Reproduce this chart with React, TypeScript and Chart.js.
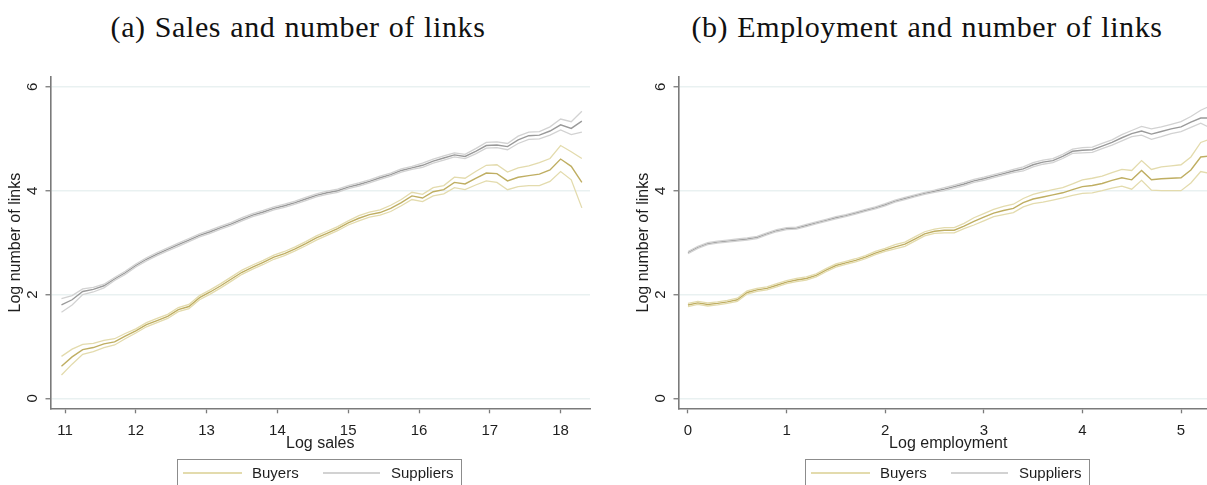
import React, { useEffect, useRef } from "react";
import { Chart, registerables } from "chart.js";

Chart.register(...registerables);

// ---------- Panel (a): sales ----------
const salesX = [10.95, 11.1, 11.25, 11.4, 11.55, 11.7, 11.85, 12.0, 12.15, 12.3, 12.45, 12.6, 12.75, 12.9, 13.05, 13.2, 13.35, 13.5, 13.65, 13.8, 13.95, 14.1, 14.25, 14.4, 14.55, 14.7, 14.85, 15.0, 15.15, 15.3, 15.45, 15.6, 15.75, 15.9, 16.05, 16.2, 16.35, 16.5, 16.65, 16.8, 16.95, 17.1, 17.25, 17.4, 17.55, 17.7, 17.85, 18.0, 18.15, 18.3];

const salesBuyersMean = [0.62, 0.8, 0.94, 0.98, 1.05, 1.09, 1.2, 1.3, 1.42, 1.5, 1.58, 1.71, 1.77, 1.94, 2.05, 2.17, 2.3, 2.43, 2.53, 2.62, 2.72, 2.79, 2.88, 2.98, 3.09, 3.18, 3.27, 3.38, 3.47, 3.54, 3.58, 3.66, 3.77, 3.9, 3.86, 3.98, 4.02, 4.16, 4.13, 4.24, 4.34, 4.33, 4.19, 4.26, 4.29, 4.32, 4.4, 4.61, 4.47, 4.16];
const salesBuyersHi = [0.81, 0.95, 1.04, 1.06, 1.12, 1.15, 1.25, 1.34, 1.46, 1.54, 1.62, 1.75, 1.81, 1.98, 2.09, 2.21, 2.34, 2.47, 2.57, 2.66, 2.76, 2.83, 2.92, 3.02, 3.13, 3.22, 3.31, 3.42, 3.52, 3.59, 3.63, 3.72, 3.83, 3.97, 3.93, 4.06, 4.1, 4.26, 4.24, 4.37, 4.49, 4.5, 4.36, 4.44, 4.48, 4.54, 4.62, 4.87, 4.75, 4.62];
const salesBuyersLo = [0.45, 0.66, 0.85, 0.9, 0.98, 1.03, 1.15, 1.26, 1.38, 1.46, 1.54, 1.67, 1.73, 1.9, 2.01, 2.13, 2.26, 2.39, 2.49, 2.58, 2.68, 2.75, 2.84, 2.94, 3.05, 3.14, 3.23, 3.34, 3.42, 3.49, 3.53, 3.6, 3.71, 3.83, 3.79, 3.9, 3.94, 4.06, 4.02, 4.11, 4.19, 4.16, 4.02, 4.08, 4.1, 4.1, 4.18, 4.37, 4.21, 3.67];

const salesSuppliersMean = [1.8, 1.9, 2.06, 2.1, 2.17, 2.3, 2.42, 2.56, 2.68, 2.78, 2.87, 2.96, 3.05, 3.14, 3.21, 3.29, 3.36, 3.45, 3.53, 3.59, 3.66, 3.71, 3.77, 3.84, 3.91, 3.96, 4.0, 4.07, 4.12, 4.18, 4.25, 4.31, 4.39, 4.44, 4.49, 4.57, 4.63, 4.69, 4.66, 4.76, 4.87, 4.88, 4.85, 4.98, 5.06, 5.07, 5.15, 5.27, 5.2, 5.34];
const salesSuppliersHi = [1.92, 1.98, 2.11, 2.14, 2.2, 2.33, 2.45, 2.59, 2.71, 2.81, 2.9, 2.99, 3.08, 3.17, 3.24, 3.32, 3.39, 3.48, 3.56, 3.62, 3.69, 3.74, 3.8, 3.87, 3.94, 3.99, 4.03, 4.1, 4.15, 4.21, 4.28, 4.34, 4.42, 4.47, 4.53, 4.61, 4.67, 4.73, 4.7, 4.81, 4.93, 4.94, 4.91, 5.05, 5.13, 5.14, 5.23, 5.38, 5.33, 5.53];
const salesSuppliersLo = [1.66, 1.8, 2.0, 2.05, 2.13, 2.27, 2.39, 2.53, 2.65, 2.75, 2.84, 2.93, 3.02, 3.11, 3.18, 3.26, 3.33, 3.42, 3.5, 3.56, 3.63, 3.68, 3.74, 3.81, 3.88, 3.93, 3.97, 4.04, 4.09, 4.15, 4.22, 4.28, 4.36, 4.41, 4.45, 4.53, 4.59, 4.65, 4.62, 4.71, 4.82, 4.83, 4.79, 4.91, 4.99, 5.0, 5.07, 5.17, 5.08, 5.13];

const salesTicks = [11, 12, 13, 14, 15, 16, 17, 18];

// ---------- Panel (b): employment ----------
const empX = [0.0, 0.1, 0.2, 0.3, 0.4, 0.5, 0.6, 0.7, 0.8, 0.9, 1.0, 1.1, 1.2, 1.3, 1.4, 1.5, 1.6, 1.7, 1.8, 1.9, 2.0, 2.1, 2.2, 2.3, 2.4, 2.5, 2.6, 2.7, 2.8, 2.9, 3.0, 3.1, 3.2, 3.3, 3.4, 3.5, 3.6, 3.7, 3.8, 3.9, 4.0, 4.1, 4.2, 4.3, 4.4, 4.5, 4.6, 4.7, 4.8, 4.9, 5.0, 5.1, 5.2, 5.35];

const empBuyersMean = [1.8, 1.84, 1.81, 1.83, 1.86, 1.9, 2.04, 2.09, 2.12, 2.18, 2.24, 2.28, 2.31, 2.37, 2.47, 2.56, 2.61, 2.66, 2.72, 2.8, 2.86, 2.92, 2.97, 3.07, 3.17, 3.22, 3.24, 3.24, 3.32, 3.41, 3.49, 3.57, 3.62, 3.66, 3.77, 3.84, 3.88, 3.92, 3.96, 4.02, 4.08, 4.1, 4.14, 4.2, 4.25, 4.21, 4.39, 4.21, 4.23, 4.24, 4.25, 4.4, 4.65, 4.68];
const empBuyersHi = [1.83, 1.87, 1.84, 1.86, 1.89, 1.93, 2.07, 2.12, 2.15, 2.21, 2.27, 2.31, 2.34, 2.4, 2.5, 2.59, 2.64, 2.69, 2.75, 2.83, 2.89, 2.96, 3.01, 3.11, 3.21, 3.26, 3.29, 3.29, 3.37, 3.48, 3.56, 3.64, 3.7, 3.74, 3.85, 3.93, 3.98, 4.02, 4.06, 4.13, 4.21, 4.24, 4.28, 4.35, 4.41, 4.39, 4.58, 4.41, 4.46, 4.48, 4.5, 4.65, 4.93, 5.03];
const empBuyersLo = [1.77, 1.81, 1.78, 1.8, 1.83, 1.87, 2.01, 2.06, 2.09, 2.15, 2.21, 2.25, 2.28, 2.34, 2.44, 2.53, 2.58, 2.63, 2.69, 2.77, 2.83, 2.88, 2.93, 3.03, 3.13, 3.18, 3.19, 3.19, 3.27, 3.34, 3.42, 3.5, 3.54, 3.58, 3.69, 3.75, 3.78, 3.82, 3.86, 3.91, 3.95, 3.96, 4.0, 4.05, 4.09, 4.03, 4.2, 4.01, 4.0, 4.0, 4.0, 4.15, 4.37, 4.31];

const empSuppliersMean = [2.81, 2.91, 2.98, 3.01, 3.03, 3.05, 3.07, 3.1, 3.17, 3.23, 3.27, 3.28, 3.33, 3.38, 3.43, 3.48, 3.52, 3.57, 3.62, 3.67, 3.73, 3.8, 3.85, 3.9, 3.95, 3.99, 4.03, 4.08, 4.13, 4.19, 4.23, 4.28, 4.33, 4.38, 4.42, 4.5, 4.55, 4.58, 4.66, 4.76, 4.78, 4.79, 4.86, 4.93, 5.02, 5.1, 5.15, 5.09, 5.14, 5.19, 5.23, 5.32, 5.4, 5.4];
const empSuppliersHi = [2.83, 2.93, 3.0, 3.03, 3.05, 3.07, 3.09, 3.12, 3.19, 3.25, 3.29, 3.3, 3.35, 3.4, 3.45, 3.5, 3.54, 3.59, 3.64, 3.69, 3.75, 3.82, 3.87, 3.92, 3.97, 4.01, 4.06, 4.11, 4.16, 4.22, 4.26, 4.31, 4.36, 4.41, 4.46, 4.54, 4.59, 4.62, 4.7, 4.8, 4.83, 4.84, 4.91, 4.98, 5.08, 5.16, 5.24, 5.19, 5.23, 5.28, 5.33, 5.43, 5.55, 5.68];
const empSuppliersLo = [2.79, 2.89, 2.96, 2.99, 3.01, 3.03, 3.05, 3.08, 3.15, 3.21, 3.25, 3.26, 3.31, 3.36, 3.41, 3.46, 3.5, 3.55, 3.6, 3.65, 3.71, 3.78, 3.83, 3.88, 3.93, 3.97, 4.0, 4.05, 4.1, 4.16, 4.2, 4.25, 4.3, 4.35, 4.38, 4.46, 4.51, 4.54, 4.62, 4.72, 4.73, 4.74, 4.81, 4.88, 4.96, 5.04, 5.07, 4.99, 5.04, 5.1, 5.14, 5.22, 5.3, 5.16];

const empTicks = [0, 1, 2, 3, 4, 5];

const yTicks = [0, 2, 4, 6];

const legendLabels = ["Buyers", "Suppliers"];
const titles = ["(a) Sales and number of links", "(b) Employment and number of links"];
const xTitles = ["Log sales", "Log employment"];
const yTitle = "Log number of links";

// ---------- styling ----------
const BUY_MEAN = "#bfae62";
const BUY_CI = "#e3dbad";
const SUP_MEAN = "#9a9a9a";
const SUP_CI = "#d2d2d2";
const AXIS = "#7a7a7a";
const TEXT = "#1e1e1e";
const SANS = "'Liberation Sans', Arial, sans-serif";
const SERIF = "'Liberation Serif', 'DejaVu Serif', serif";

type PanelProps = {
  left: number;
  xs: number[];
  bMean: number[];
  bHi: number[];
  bLo: number[];
  sMean: number[];
  sHi: number[];
  sLo: number[];
  xMin: number;
  xMax: number;
  xTicks: number[];
  xTitle: string;
};

const CW = 600;
const CH = 425;
const CTOP = 60;

function pts(xs: number[], ys: number[]) {
  return xs.map((x, i) => ({ x, y: ys[i] }));
}

function Panel(p: PanelProps) {
  const ref = useRef<HTMLCanvasElement | null>(null);
  useEffect(() => {
    if (!ref.current) return;
    const line = (data: number[], color: string, w: number) => ({
      data: pts(p.xs, data),
      borderColor: color,
      borderWidth: w,
      pointRadius: 0,
      tension: 0,
      fill: false,
    });
    const chart = new Chart(ref.current, {
      type: "line",
      data: {
        datasets: [
          line(p.bHi, BUY_CI, 1.3),
          line(p.bLo, BUY_CI, 1.3),
          line(p.sHi, SUP_CI, 1.3),
          line(p.sLo, SUP_CI, 1.3),
          line(p.bMean, BUY_MEAN, 1.4),
          line(p.sMean, SUP_MEAN, 1.4),
        ],
      },
      options: {
        animation: false,
        responsive: false,
        maintainAspectRatio: false,
        devicePixelRatio: 1,
        layout: { padding: { top: 15, right: 10, left: 0, bottom: 0 } },
        plugins: { legend: { display: false }, tooltip: { enabled: false } },
        scales: {
          x: {
            type: "linear",
            min: p.xMin,
            max: p.xMax,
            afterBuildTicks: (s: any) => {
              s.ticks = p.xTicks.map((v) => ({ value: v }));
            },
            afterFit: (s: any) => {
              s.height = 76.7;
            },
            grid: { drawOnChartArea: false, drawTicks: true, tickLength: 5, tickColor: AXIS, tickWidth: 1.3 },
            border: { display: true, color: AXIS, width: 1.6 },
            ticks: {
              autoSkip: false,
              maxRotation: 0,
              minRotation: 0,
              padding: 9,
              color: TEXT,
              font: { family: SANS, size: 15 },
            },
            title: {
              display: true,
              text: p.xTitle,
              color: TEXT,
              font: { family: SANS, size: 16 },
              padding: { top: 0, bottom: 32 },
            },
          },
          y: {
            type: "linear",
            min: -0.19,
            max: 6.19,
            afterBuildTicks: (s: any) => {
              s.ticks = yTicks.map((v) => ({ value: v }));
            },
            afterFit: (s: any) => {
              s.width = 50.5;
            },
            grid: { color: "#e9f1f1", lineWidth: 1.5, drawTicks: true, tickLength: 5, tickColor: AXIS, tickWidth: 1.3 },
            border: { display: true, color: AXIS, width: 1.6 },
            ticks: {
              minRotation: 90,
              maxRotation: 90,
              crossAlign: "center",
              padding: 8,
              color: TEXT,
              font: { family: SANS, size: 15 },
            },
            title: {
              display: true,
              text: yTitle,
              color: TEXT,
              font: { family: SANS, size: 16 },
              padding: { top: 6, bottom: 0 },
            },
          },
        },
      } as any,
    });
    return () => chart.destroy();
  }, []);
  return (
    <canvas
      ref={ref}
      width={CW}
      height={CH}
      style={{ position: "absolute", left: p.left, top: CTOP, width: CW, height: CH }}
    />
  );
}

function Legend({ left }: { left: number }) {
  const txt: React.CSSProperties = {
    position: "absolute",
    top: 464,
    fontFamily: SANS,
    fontSize: 15,
    color: TEXT,
    lineHeight: "18px",
    whiteSpace: "nowrap",
  };
  const ln: React.CSSProperties = { position: "absolute", top: 472, height: 2 };
  return (
    <>
      <div
        style={{
          position: "absolute",
          left: left,
          top: 459,
          width: 285,
          height: 40,
          border: "1px solid #8c8c8c",
          boxSizing: "border-box",
        }}
      />
      <div style={{ ...ln, left: left + 6, width: 59, background: BUY_CI }} />
      <div style={{ ...txt, left: left + 75 }}>{legendLabels[0]}</div>
      <div style={{ ...ln, left: left + 146, width: 57, background: SUP_CI }} />
      <div style={{ ...txt, left: left + 214 }}>{legendLabels[1]}</div>
    </>
  );
}

export default function App() {
  const titleStyle: React.CSSProperties = {
    position: "absolute",
    top: 9,
    width: 600,
    textAlign: "center",
    fontFamily: SERIF,
    fontSize: 30,
    lineHeight: "36px",
    letterSpacing: "0.6px",
    wordSpacing: "1px",
    color: "#111",
    whiteSpace: "nowrap",
  };
  return (
    <div
      style={{
        position: "fixed",
        left: 0,
        top: 0,
        width: 1207,
        height: 485,
        overflow: "hidden",
        background: "#fff",
      }}
    >
      <div style={{ ...titleStyle, left: -2 }}>{titles[0]}</div>
      <div style={{ ...titleStyle, left: 627 }}>{titles[1]}</div>
      <Panel
        left={0}
        xs={salesX}
        bMean={salesBuyersMean}
        bHi={salesBuyersHi}
        bLo={salesBuyersLo}
        sMean={salesSuppliersMean}
        sHi={salesSuppliersHi}
        sLo={salesSuppliersLo}
        xMin={10.795}
        xMax={18.415}
        xTicks={salesTicks}
        xTitle={xTitles[0]}
      />
      <Panel
        left={628}
        xs={empX}
        bMean={empBuyersMean}
        bHi={empBuyersHi}
        bLo={empBuyersLo}
        sMean={empSuppliersMean}
        sHi={empSuppliersHi}
        sLo={empSuppliersLo}
        xMin={-0.096}
        xMax={5.375}
        xTicks={empTicks}
        xTitle={xTitles[1]}
      />
      <Legend left={177} />
      <Legend left={805} />
    </div>
  );
}
